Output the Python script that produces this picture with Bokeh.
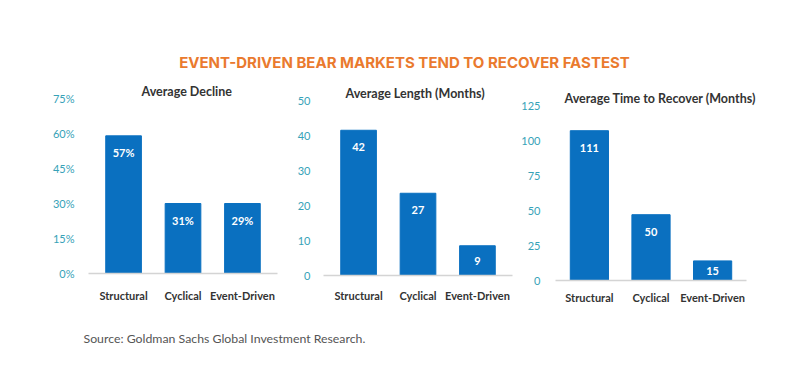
from bokeh.plotting import figure
from bokeh.layouts import column, row
from bokeh.models import Range1d, FactorRange, ColumnDataSource, FixedTicker, Spacer
from bokeh.core.properties import value
from bokeh.embed import file_html
from bokeh.resources import INLINE

# ---- data ----
categories = ["Structural", "Cyclical", "Event-Driven"]

decline_bars = [59, 30, 30]
decline_labels = ["57%", "31%", "29%"]
decline_ticks = [0, 15, 30, 45, 60, 75]

length_bars = [41.5, 23.5, 8.5]
length_labels = ["42", "27", "9"]
length_ticks = [0, 10, 20, 30, 40, 50]

recover_bars = [107, 47, 14]
recover_labels = ["111", "50", "15"]
recover_ticks = [0, 25, 50, 75, 100, 125]

main_title = "EVENT-DRIVEN BEAR MARKETS TEND TO RECOVER FASTEST"
source_text = "Source: Goldman Sachs Global Investment Research."

# ---- style ----
FONT = "Lato"
BAR = "#0a70c0"
TEAL = "#36a2b8"
DARK = "#333333"
ORANGE = "#ea7a2e"
TOTAL_W = 793


def panel(title, vals, labels, ticks, pct, width, height, bl, br, bt, bb,
          pad, bar_w, tick_standoff, title_offset, x_standoff):
    ymax = ticks[-1]
    p = figure(
        x_range=FactorRange(factors=categories, range_padding=pad,
                            range_padding_units="absolute"),
        y_range=Range1d(0, ymax),
        width=width, height=height,
        min_border_left=bl, min_border_right=br,
        min_border_top=bt, min_border_bottom=bb,
        output_backend="svg", toolbar_location=None,
    )
    p.title.text = title
    p.title.align = "left"
    p.title.text_font = FONT
    p.title.text_font_style = "bold"
    p.title.text_font_size = "12.5px"
    p.title.text_color = DARK
    p.title.standoff = 0
    p.title.offset = title_offset
    p.outline_line_color = None
    p.grid.grid_line_color = None
    p.background_fill_color = "white"
    p.border_fill_color = "white"

    src = ColumnDataSource(dict(x=categories, top=vals, label=labels))
    p.vbar(x="x", top="top", width=bar_w, source=src,
           fill_color=BAR, line_color=BAR)

    frame_h = height - bt - bb
    ppu = frame_h / ymax
    src.data["off"] = [min(17, v * ppu / 2) for v in vals]
    p.text(x="x", y="top", text="label", y_offset="off", source=src,
           text_align="center", text_baseline="middle",
           text_color="white", text_font=value(FONT),
           text_font_style="bold", text_font_size="11px")

    xa = p.xaxis[0]
    xa.axis_line_color = "#d4d4d4"
    xa.axis_line_width = 1.5
    xa.major_tick_line_color = None
    xa.minor_tick_line_color = None
    xa.major_label_text_font = FONT
    xa.major_label_text_font_style = "bold"
    xa.major_label_text_font_size = "11px"
    xa.major_label_text_color = DARK
    xa.major_label_standoff = x_standoff

    ya = p.yaxis[0]
    ya.ticker = FixedTicker(ticks=ticks)
    ya.axis_line_color = None
    ya.major_tick_line_color = None
    ya.minor_tick_line_color = None
    ya.major_label_text_font = FONT
    ya.major_label_text_font_size = "11px"
    ya.major_label_text_color = TEAL
    ya.major_label_standoff = tick_standoff
    if pct:
        ya.major_label_overrides = {t: f"{t}%" for t in ticks}
    return p


H = 243
p1 = panel("Average Decline", decline_bars, decline_labels, decline_ticks, True,
           290, H, 88, 13, 26, 42, 0.09, 0.6, 8, 53, 9)
p2 = panel("Average Length (Months)", length_bars, length_labels, length_ticks, False,
           225, H, 33, 3, 26, 42, 0.09, 0.6, 7, 22, 7)
p3 = panel("Average Time to Recover (Months)", recover_bars, recover_labels, recover_ticks, False,
           278, H, 40, 47, 26, 42, 0.05, 0.62, 9, 9, 4)

# header
hdr = figure(width=TOTAL_W, height=72, x_range=Range1d(0, TOTAL_W), y_range=Range1d(0, 72),
             min_border=0, output_backend="svg", toolbar_location=None)
hdr.axis.visible = False
hdr.grid.visible = False
hdr.outline_line_color = None
hdr.text(x=[404], y=[10], text=[main_title], text_align="center", text_baseline="middle",
         text_font=value("Inter"), text_font_style="bold", text_font_size="15px",
         text_color=ORANGE)

# footer
ftr = figure(width=TOTAL_W, height=43, x_range=Range1d(0, TOTAL_W), y_range=Range1d(0, 43),
             min_border=0, output_backend="svg", toolbar_location=None)
ftr.axis.visible = False
ftr.grid.visible = False
ftr.outline_line_color = None
ftr.text(x=[83], y=[27], text=[source_text], text_align="left", text_baseline="middle",
         text_font=value(FONT), text_font_size="12.3px", text_color="#555555")

panels = row(
    column(Spacer(width=290, height=0), p1),
    column(Spacer(width=225, height=2), p2),
    column(Spacer(width=278, height=7), p3),
)
layout = column(hdr, panels, ftr, spacing=0)

open("out.html", "w").write(file_html(layout, INLINE))
